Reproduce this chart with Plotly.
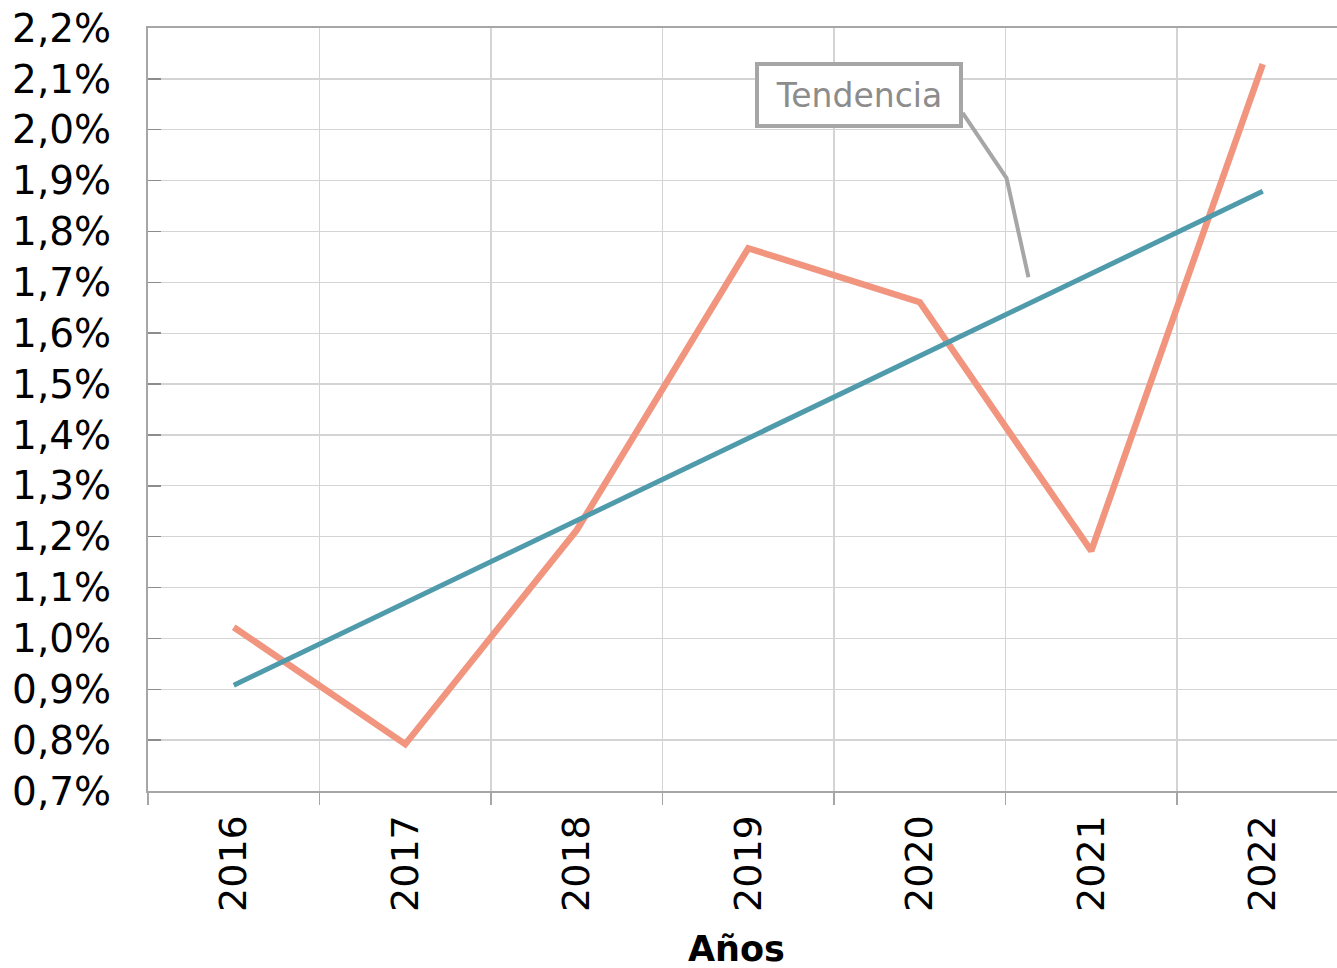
import plotly.graph_objects as go

years = ["2016", "2017", "2018", "2019", "2020", "2021", "2022"]
values = [0.01022, 0.00792, 0.01213, 0.01767, 0.01661, 0.01172, 0.02129]
trend_years_idx = [0, 6]
trend_values = [0.00908, 0.01879]
y_ticks = [0.007, 0.008, 0.009, 0.010, 0.011, 0.012, 0.013, 0.014, 0.015,
           0.016, 0.017, 0.018, 0.019, 0.020, 0.021, 0.022]
x_title = "Años"
callout_text = "Tendencia"

x_idx = list(range(len(years)))

FONT = "DejaVu Sans, Verdana, sans-serif"
GRID = "#D4D4D4"
AXIS = "#A6A6A6"

fig = go.Figure()
fig.add_trace(go.Scatter(x=x_idx, y=values, mode="lines",
                         line=dict(color="#F1957F", width=6.5),
                         hoverinfo="skip", showlegend=False))
fig.add_trace(go.Scatter(x=trend_years_idx, y=trend_values, mode="lines",
                         line=dict(color="#4F9BAC", width=5),
                         hoverinfo="skip", showlegend=False))

W, H = 1337, 968
L, T, B = 148, 28, 177
plot_w = W - L
cat_w = 171.5

fig.update_layout(
    width=W, height=H,
    margin=dict(l=L, r=0, t=T, b=B, pad=0),
    paper_bgcolor="white", plot_bgcolor="white",
    separators=", ",
    font=dict(family=FONT, color="black", size=37),
    xaxis=dict(
        range=[-0.5, -0.5 + plot_w / cat_w],
        tickmode="array", tickvals=x_idx, ticktext=years,
        tickangle=-90, ticks="", showgrid=False,
        showline=True, linecolor=AXIS, linewidth=2, mirror=True,
        ticklabelstandoff=7,
        tickfont=dict(size=38, family=FONT, color="black"),
        minor=dict(tick0=-0.5, dtick=1, showgrid=True, gridcolor=GRID,
                   gridwidth=1.3, ticks="outside", ticklen=12,
                   tickcolor=AXIS, tickwidth=1.5),
        zeroline=False, fixedrange=True,
    ),
    yaxis=dict(
        range=[0.007, 0.022],
        tickmode="array", tickvals=y_ticks, tickformat=".1%",
        ticks="inside", ticklen=13, tickcolor="#8C8C8C", tickwidth=1.5,
        showgrid=True, gridcolor=GRID, gridwidth=1.3,
        showline=True, linecolor=AXIS, linewidth=2,
        ticklabelstandoff=27,
        tickfont=dict(size=39, family=FONT, color="black"),
        zeroline=False, fixedrange=True,
    ),
    annotations=[
        dict(text="<b>" + x_title + "</b>", xref="paper", yref="paper",
             x=(736 - L) / plot_w, y=-(949 - (H - B)) / (H - B - T),
             xanchor="center", yanchor="middle", showarrow=False,
             font=dict(size=35, family=FONT, color="black")),
        dict(text=callout_text, xref="x", yref="y", x=3.644, y=0.02068,
             xanchor="center", yanchor="middle", showarrow=False,
             width=192, height=50, borderpad=4, borderwidth=4,
             bordercolor="#A6A6A6", bgcolor="white",
             font=dict(size=33, family=FONT, color="#8C8C8C")),
    ],
    shapes=[
        dict(type="path", xref="x", yref="y",
             path="M 4.25 0.02033 L 4.506 0.01905 L 4.634 0.01710",
             line=dict(color="#A6A6A6", width=4)),
    ],
)

fig.write_html("out.html",
               config={"displayModeBar": False, "staticPlot": True},
               post_script="document.body.style.margin='0';"
                           "document.body.style.overflow='hidden';")
